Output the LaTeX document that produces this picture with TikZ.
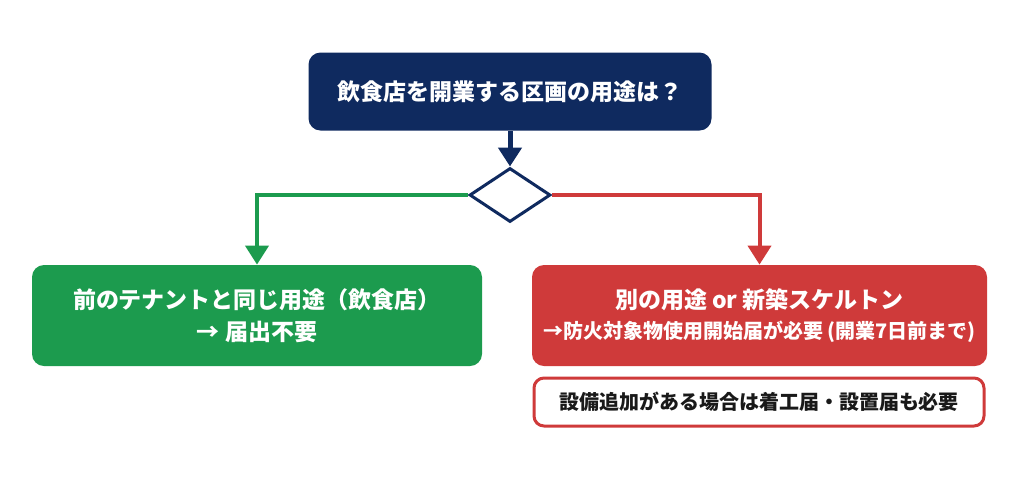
\documentclass[tikz,border=0pt]{standalone}
\usepackage{fontspec}
\setmainfont{Noto Sans CJK JP}
\usepackage{tikz}
\usetikzlibrary{arrows.meta,shapes.geometric}
\definecolor{navy}{HTML}{0F2A5F}
\definecolor{green}{HTML}{1C9B4E}
\definecolor{red}{HTML}{CF3A3A}

\begin{document}
\begin{tikzpicture}[x=.5pt,y=-.5pt,>={Triangle[width=11.5pt,length=9.5pt]},font=\bfseries,
  box/.style={rounded corners=6pt,text=white,align=center,inner sep=0pt,minimum height=50.5pt}]
\useasboundingbox (0,0) rectangle (1024,479);
% question
\node[box,fill=navy,minimum width=201.5pt,minimum height=39pt,font=\bfseries\fontsize{11.5}{14}\selectfont] (q) at (510,91.5){飲食店を開業する区画の用途は？};
\node[diamond,draw=navy,line width=1.5pt,fill=white,inner sep=0pt,minimum width=40.5pt,minimum height=27pt] (d) at (510,195){};
\draw[navy,->,line width=2.5pt] (q.south)--(d.north);
% same use
\node[box,fill=green,minimum width=225pt,font=\bfseries\fontsize{11.5}{16}\selectfont] (same) at (257,315.5){前のテナントと同じ用途（飲食店）\\→ 届出不要};
\draw[green,->,line width=2pt] (d.west) -| (same.north);
% other use
\node[box,fill=red,minimum width=227.5pt,font=\bfseries\fontsize{11.5}{15}\selectfont] (other) at (759.5,315.5){別の用途 or 新築スケルトン\\{\fontsize{10}{15}\selectfont →防火対象物使用開始届が必要 (開業7日前まで)}};
\draw[red,->,line width=2pt] (d.east) -| (other.north);
\node[draw=red,line width=1.5pt,rounded corners=5pt,fill=white,inner sep=0pt,minimum width=225pt,minimum height=24pt,font=\bfseries\fontsize{10}{12}\selectfont,text=black!90] (extra) at (759,402){設備追加がある場合は着工届・設置届も必要};
\end{tikzpicture}
\end{document}
